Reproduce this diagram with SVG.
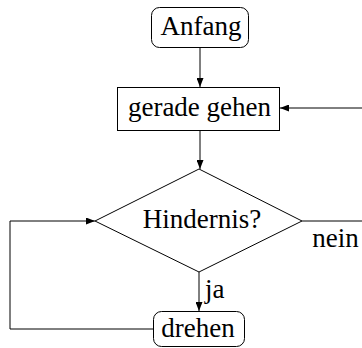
<svg xmlns="http://www.w3.org/2000/svg" width="362" height="348" viewBox="0 0 362 348">
<style>
.n{fill:#fff;stroke:#000;stroke-width:1}
.t{font-family:"Liberation Serif","Times New Roman",serif;font-size:27px;fill:#000;text-anchor:middle}
.c{fill:none;stroke:#000;stroke-width:1}
</style>
<defs>
<marker id="a" markerWidth="9" markerHeight="7" refX="9" refY="3.5" orient="auto" markerUnits="userSpaceOnUse">
<path d="M0,0 L9,3.5 L0,7 Z" fill="#000"/>
</marker>
</defs>
<rect width="362" height="348" fill="#fff"/>
<g id="connectors">
<path class="c" d="M200,47 V87" marker-end="url(#a)"/>
<path class="c" d="M200,130 V169" marker-end="url(#a)"/>
<path class="c" d="M199,272 V311" marker-end="url(#a)"/>
<path class="c" d="M302,221 H362"/>
<path class="c" d="M362,108 H280" marker-end="url(#a)"/>
<path class="c" d="M153,329 H10 V221 H95" marker-end="url(#a)"/>
<text class="t" x="335.5" y="247">nein</text>
<text class="t" x="205" y="298" style="text-anchor:start">ja</text>
</g>
<g id="anfang">
<rect class="n" x="151.5" y="7.5" width="97" height="40" rx="8"/>
<text class="t" x="201" y="35">Anfang</text>
</g>
<g id="gerade">
<rect class="n" x="117.5" y="87.5" width="162" height="43"/>
<text class="t" x="199.5" y="116">gerade gehen</text>
</g>
<g id="hindernis">
<polygon class="n" points="199,169 302,221 199,272 95,221"/>
<text class="t" x="202" y="228">Hindernis?</text>
</g>
<g id="drehen">
<rect class="n" x="153.5" y="311.5" width="91" height="35" rx="8"/>
<text class="t" x="198" y="337">drehen</text>
</g>
</svg>
